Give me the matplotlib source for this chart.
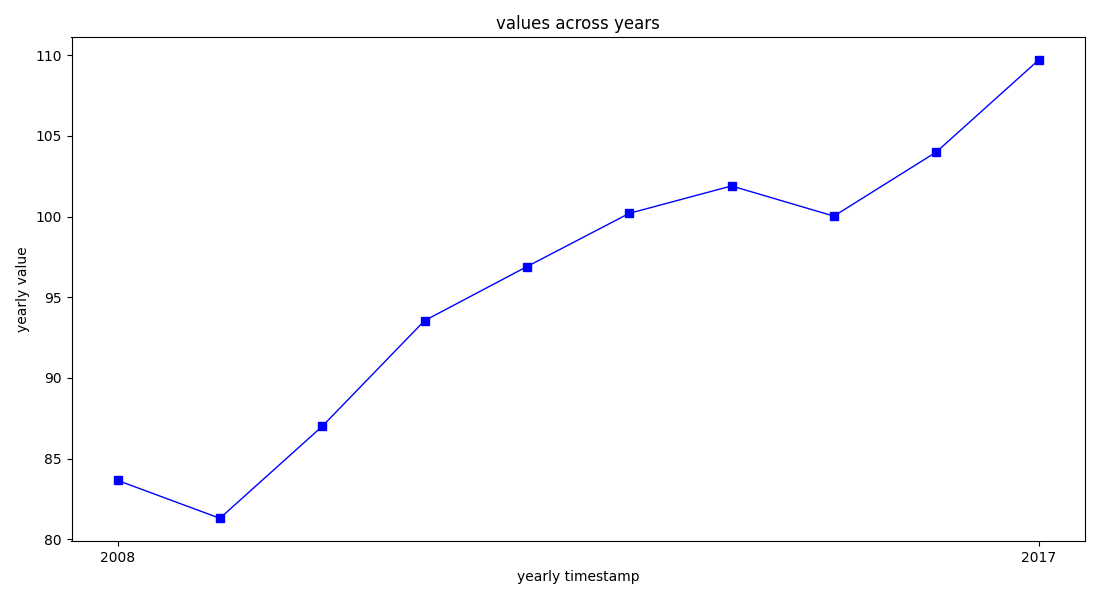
import matplotlib
matplotlib.use("Agg")
import matplotlib.pyplot as plt

years = [2008, 2009, 2010, 2011, 2012, 2013, 2014, 2015, 2016, 2017]
values = [83.65, 81.3, 87.0, 93.55, 96.9, 100.2, 101.9, 100.03, 104.0, 109.7]
tick_years = [2008, 2017]


def draw_data(x, y):
    fig, ax = plt.subplots(figsize=(11, 6), dpi=100)
    ax.plot(x, y, color="blue", linewidth=1, marker="s", markersize=6)
    ax.set_xticks(tick_years)
    ax.set_xticklabels([str(t) for t in tick_years])
    ax.set_title("values across years")
    ax.set_xlabel("yearly timestamp")
    ax.set_ylabel("yearly value")
    fig.subplots_adjust(left=0.065, right=0.986, top=0.938, bottom=0.098)
    fig.savefig("out.png")


def main():
    draw_data(years, values)


if __name__ == "__main__":
    main()
